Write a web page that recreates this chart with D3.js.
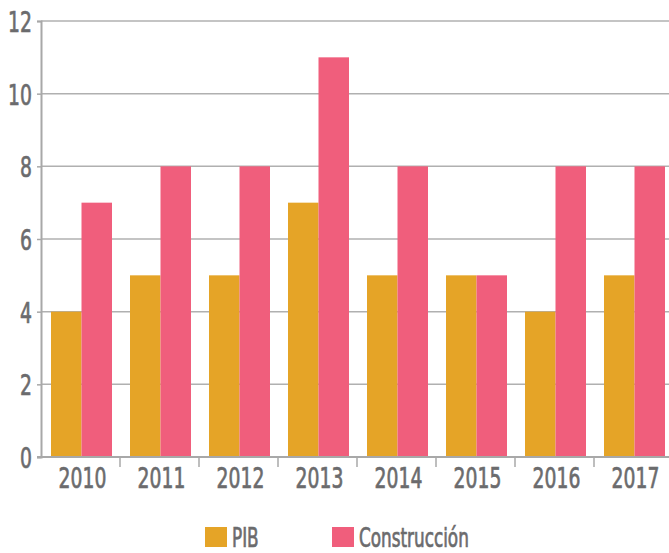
<!DOCTYPE html>
<html>
<head>
<meta charset="utf-8">
<script src="https://cdn.jsdelivr.net/npm/d3@7"></script>
<style>
  body { margin: 0; background: #fff; }
  text { font-family: "DejaVu Sans Condensed", "DejaVu Sans", sans-serif; fill: #6b6b6d; stroke: #6b6b6d; stroke-width: 0.7px; }
</style>
</head>
<body>
<div id="chart"></div>
<script>
    var years = ["2010", "2011", "2012", "2013", "2014", "2015", "2016", "2017"],
        pib = [4, 5, 5, 7, 5, 5, 4, 5],
        construccion = [7, 8, 8, 11, 8, 5, 8, 8],
        series = ["PIB", "Construcción"],
        yTicks = [0, 2, 4, 6, 8, 10, 12];

    var width = 669,
        height = 553,
        squeeze = 0.72,
        color = d3.scaleOrdinal().domain(series).range(["#e5a427", "#f05e7c"]);

    var svg = d3.select("#chart").append("svg")
        .attr("width", width).attr("height", height);

    var x = d3.scaleBand().domain(years).range([41, 673]),
        inner = d3.scaleBand().domain(series).range([10, 71]),
        y = d3.scaleLinear().domain([0, 12]).range([457, 21]);

    // grid
    svg.append("g").selectAll("line")
        .data(yTicks.slice(1))
        .enter().append("line")
        .attr("x1", 41).attr("x2", width)
        .attr("y1", function (d) { return y(d); })
        .attr("y2", function (d) { return y(d); })
        .style("stroke", "#b0b0b0")
        .style("stroke-width", "1.5px");

    var rows = years.map(function (yr, i) {
        return {year: yr, values: [pib[i], construccion[i]]};
    });

    svg.append("g").selectAll("g")
        .data(rows)
        .enter().append("g")
        .attr("transform", function (d) { return "translate(" + x(d.year) + ",0)"; })
        .selectAll("rect")
        .data(function (d) { return d.values.map(function (v, j) { return {key: series[j], value: v}; }); })
        .enter().append("rect")
        .attr("x", function (d) { return inner(d.key); })
        .attr("width", inner.bandwidth())
        .attr("y", function (d) { return y(d.value); })
        .attr("height", function (d) { return y(0) - y(d.value); })
        .style("fill", function (d) { return color(d.key); });

    // y axis
    var yAxis = svg.append("g")
        .attr("transform", "translate(41,0)")
        .call(d3.axisLeft(y).tickValues(yTicks).tickSize(4).tickPadding(8));
    yAxis.select(".domain").style("stroke", "#a8a8a8").style("stroke-width", "2px");
    yAxis.selectAll(".tick line").style("stroke", "#a8a8a8").style("stroke-width", "1.5px");
    yAxis.selectAll(".tick text")
        .style("font-size", "29px")
        .attr("x", 0)
        .attr("dy", "0.36em")
        .attr("transform", "translate(-9,0) scale(" + squeeze + ",1)");

    // x axis
    var xAxis = svg.append("g")
        .attr("transform", "translate(0,457)")
        .call(d3.axisBottom(x).tickSize(0).tickPadding(10));
    xAxis.select(".domain").attr("d", "M37,0H" + width).style("stroke", "#a8a8a8").style("stroke-width", "2px");
    xAxis.selectAll(".tick").attr("transform", function (d) {
        return "translate(" + (x(d) + x.bandwidth() / 2 + 2) + ",0)";
    });
    xAxis.selectAll(".tick text")
        .style("font-size", "29px")
        .attr("dy", "0.71em")
        .attr("transform", "scale(" + squeeze + ",1)");
    svg.append("g").selectAll("line")
        .data(years.slice(1))
        .enter().append("line")
        .attr("x1", function (d) { return x(d); })
        .attr("x2", function (d) { return x(d); })
        .attr("y1", 457).attr("y2", 467)
        .style("stroke", "#a8a8a8").style("stroke-width", "1.5px");

    // legend
    var legendX = [205, 332];
    var legend = svg.append("g").selectAll("g")
        .data(series)
        .enter().append("g")
        .attr("transform", function (d, i) { return "translate(" + legendX[i] + ",527)"; });
    legend.append("rect")
        .attr("width", 22).attr("height", 20)
        .style("fill", function (d) { return color(d); });
    legend.append("text")
        .attr("transform", "translate(27,20) scale(" + squeeze + ",1)")
        .style("font-size", "26px")
        .text(function (d) { return d; });
</script>
</body>
</html>
